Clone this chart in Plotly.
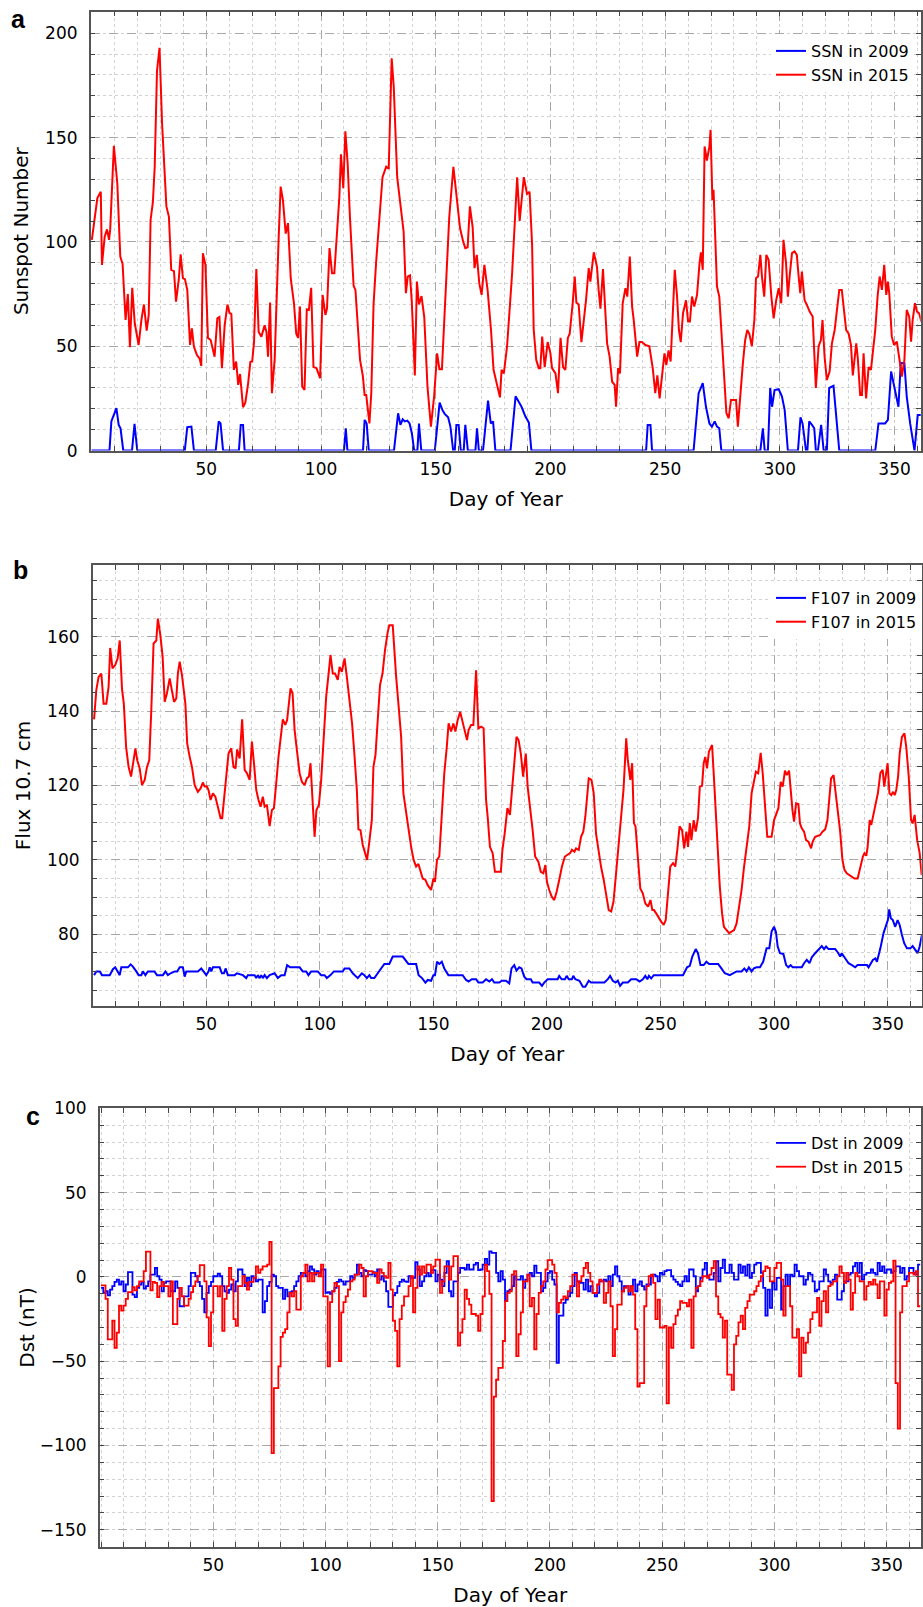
import plotly.graph_objects as go

# ---------------- data ----------------
ssn2015_day = [0.1,2.5,4,4.5,5.7,6.7,7.6,8.1,9.7,11.2,12.5,13.5,14.8,15.8,16.7,17.7,18.8,20.5,21.7,22.8,24,24.9,25.7,26.7,27.5,28.5,29.6,30.7,32.6,33.7,34.7,35.9,36.8,38,38.8,39.8,40.7,41.7,42.9,43.7,44.6,45.9,47.1,47.8,48.5,49.6,50.7,51.9,53.6,54.8,55.7,56.8,58,59.2,60.1,60.9,62,63,63.9,64.7,66,67,68.2,69.2,70,70.8,71.8,72.8,74,75.4,76.2,76.9,77.8,78.6,79.8,80.7,81.5,82.4,83.4,84.6,85.6,86.8,88.2,89.2,90,90.8,91.8,92.8,93.8,94.7,95.7,96.7,98,99.6,100.7,101.9,102.6,103.7,104.8,105.8,107,108,108.7,109.7,110.6,111.6,112.6,114.2,115,116,117,118.2,119,119.7,121.1,121.9,122.9,124,125.2,126.8,128.4,129.5,130.8,131.7,133.2,134.9,136,137,137.8,138.8,139.6,140.9,141.8,142.7,143.8,145,146.4,147.9,149.3,150.6,151.6,152.7,154,155.9,157.7,159.1,160.6,162,162.9,163.9,164.9,166.1,166.9,167.9,169,170,171.2,172.6,174.1,175.2,176.7,178,178.7,179.7,181.1,183.3,185.5,186.6,188.4,189.8,190.9,192,192.7,193.8,194.9,195.6,196.4,197.5,198.8,200,200.7,202.2,203.3,204.4,205.5,206.5,207.6,208.4,209.7,210.6,211.3,212.3,213.5,214.5,215.5,216.7,217.4,218.9,220.3,221,221.8,222.9,223.7,224.7,225.8,226.9,228,228.6,229.5,230.3,231.5,232.7,233.5,234.6,235.6,236.3,237.8,238.8,239.9,241.4,243.1,244.6,245.7,246.6,247.6,248.6,249.7,250.5,251.5,252.4,253.3,254.2,255.2,256,256.8,257.8,259.1,260,260.8,261.7,262.7,263.9,265,265.6,266.4,267.2,268.2,269.3,269.8,270.6,271.1,271.9,272.6,273.6,274.8,275.8,276.7,277.7,278.7,279.9,280.9,281.7,282.8,283.9,284.9,285.8,286.7,287.8,288.9,289.6,290.5,291.5,292.2,293.2,294.1,295.1,296.3,297.3,298.4,299.5,300.6,301.6,302.7,303.5,304.3,305.3,306.4,307.4,308.2,308.9,309.6,310.8,311.8,313,314.3,315,315.7,316.9,317.9,318.6,319.5,320.5,321.7,322.7,323.9,324.9,325.9,327,328,328.9,330,331,331.8,332.6,333.3,334,335,335.8,336.5,337.6,338.7,339.7,340.6,341.6,342.6,343.5,344.5,345.5,346.4,347.1,347.7,348.8,349.8,351,352.1,353.2,354.3,355.3,356.4,357.2,357.9,358.9,359.8,360.7,361.7]
ssn2015 = [101,121,124,89,102.5,106,101,106,146,128,93,89.5,62.6,75,49.5,78,61,50.6,62.6,70,57.5,65,110.5,119,136,182,193,157,117,112,86.6,86,71.4,82,94,82.6,82,77,50.6,58.6,49.8,45.8,44,40.6,94.6,89,54,53,45,63.4,64,39.5,60,70,66,65.5,38.7,42.7,31.5,36.7,20.8,23,32,42.5,42.7,52,87,57,54.6,60,57,45,71,27.5,44,77,101,126.5,120,104,109,82.6,70.6,56,54,69,30.7,29,67.7,67.4,78,40,39.5,34.7,74.6,65,68,97,85,85,102.5,121.7,142,125.7,153,137.7,112,79,77,60,43.5,36,26.7,26.7,13,27.5,70,90,109,131,136,135,188,174.4,131,115,105,75.4,83.4,84,70.6,36,81,70,74,64,30.7,11.5,26,46.6,39,39,66,112,136,121.7,106.5,100,97,97.4,117,107,87.4,93.8,80,74.6,89,77,57.8,38.7,30.7,25.5,38.7,37,50,85,131,110,131,123,124,99,58,43.5,39.5,39.5,54.6,40,52,46.6,39.5,37,27.5,54,40,38.7,54,56,70.6,83.4,71,70,52,61,72,87.4,81,95,88,77,68,87,72,51.4,45,33,31.5,21,39.5,37,70.6,77.8,73.8,93,69,62.6,45,52,52,50.6,50,39.5,27.5,36,25,37,46.6,41,48,42.7,62.6,86.6,73.8,57.8,52,65.8,72,61.8,61.8,73.8,69,74.6,89.8,95,86.6,145.7,139,145.7,153.7,120,125,99,78.6,73.8,53,37,18,15.5,24.3,24.3,24.3,11.5,29,42,53,57.8,56,50,62.6,82.6,83.4,93.8,83.4,73.8,93.8,91.4,73.8,63.4,72,77.8,70.6,101,89.8,73.8,84,94.6,95.4,93.8,83.4,75.4,85.8,72,69.8,66.6,64.2,46.6,30,50,53,62.6,45,33.8,37.9,51.4,57.8,67.4,77,77,67.4,57.8,56,50.6,36,43.5,51.4,44,26.7,26.7,46.6,25,40,38.7,48,57.8,73.8,83.4,77,89,74.6,81,75.4,54.6,50.6,52.2,44,35.5,43.5,67.4,64.2,52.2,62.6,70.6,66.6,65.8,61.8]

ssn2009_day = [0,7.8,8.6,10.8,11.8,12.6,13.8,17.6,18.7,19.9,40.6,41.7,43.5,44.6,54.1,55.4,56.2,57.3,64.2,65,66,66.7,110,110.8,111.5,118.3,119,119.9,120.8,131.8,133.6,134.6,135.6,136.5,137.6,138.6,139.6,140.6,142,142.7,143.7,149.6,151.7,152.9,153.9,155.4,156.4,157.6,158.3,159,160,160.9,162.2,162.9,164,167.3,168,168.8,170.6,172.8,174,175,176,182.6,184.8,185.9,187.4,189.1,190.6,191.7,241.7,242.4,243.6,244.3,262.4,264.6,266.4,267.8,269.3,270.4,271.6,272.6,273.6,274.5,291.5,292.6,293.4,294.8,295.8,296.6,297.7,299.5,300.9,302.1,303.5,307.9,309,309.9,311.4,312,312.8,314,315,315.7,316.6,318,319.1,320.5,321.5,323.4,324.9,325.9,341.6,343,345.9,347.1,348.5,350.3,351.7,352.7,354.3,355.3,356.8,358.7,360.1,361.7]
ssn2009 = [0,0,14,20.3,12.3,10.7,0,0,12.8,0,0,11.2,11.5,0,0,14,13,0,0,12.3,12.3,0,0,10.7,0,0,14.7,13,0,0,17.9,12.3,15,14,14.4,13,8.3,0,0,13,0,0,23,19.5,17.6,16,11.5,0,0,12.3,12.3,0,0,12.3,0,0,10.7,0,0,24,13,14,0,0,26,24,21,16.3,13.4,0,0,12.3,12.3,0,0,27.5,32.3,21,13,11.5,14,11.5,10.7,0,0,10.7,0,0,30,21,29,29.4,26,19.5,0,0,16,13,0,0,14,12.3,10.7,0,0,12.3,0,0,30,31,14,0,0,13,13,14.7,37.9,29,21,42,41.9,26,13,0,17,17]

f107_2015_day = [0.6,1.6,2.6,3.8,4.8,6,7,7.7,8.7,9.9,11,11.9,12.9,13.7,14.7,15.8,16.9,17.8,18.8,19.6,20.7,21.7,22.9,23.9,24.9,25.8,26.8,28,28.7,29.8,30.8,31.7,32.7,33.9,34.9,35.8,36.8,37.5,38.3,39.3,40.8,41.6,42.7,43.7,44.9,46.3,47.5,48.5,49.3,50.3,51,51.9,52.9,54,55.1,56.3,57,58.1,59.2,59.8,61,62,62.9,63.6,64.7,65.8,66.9,67.9,69.1,70.1,71,72,73,73.9,74.9,75.7,76.7,77.9,78.9,79.8,80.8,81.8,83.7,84.8,85.6,86.4,87.1,88,88.9,89.9,91.1,92.1,93.3,94.3,95.2,95.9,96.6,97.7,98.5,99.6,100.6,101.6,102.8,103.8,104.7,105.7,106.7,107.9,108.7,109.7,110.9,111.9,113,114.2,115.2,116.3,117,117.9,118.9,119.9,120.8,121.8,122.9,123.6,124.5,125.5,126.5,127.6,128.7,129.9,130.6,132.1,132.8,133.6,134.6,135.8,136.8,138,139,140.2,141.3,142.4,143.4,144.3,145.3,146.5,147.5,149,150,150.7,151.6,152.6,153.7,154.8,155.9,156.7,157.8,158.8,159.7,160.7,161.8,162.9,164.1,164.8,165.5,166.6,167.6,168.8,169.8,171,172.1,173.2,173.9,174.9,176.1,177.1,179.7,180.4,181.4,182.6,183.7,184.5,185.6,186.6,187.5,188.5,189.5,190.7,191.5,192.6,193.7,194.8,196.2,197.3,198.4,199.3,200,201,202.1,203.2,204.3,205.4,206.6,207.9,209.1,210.2,211,212.1,212.8,214,215,216,216.9,217.7,218.4,219.6,220.6,221.6,222.7,223.8,225,226.1,227.2,228.3,229.3,230.5,231.5,232.7,233.7,234.9,235.6,236.7,237.5,238.3,239,240,241.1,242.2,243.3,244.5,245.6,246.4,247.1,248.1,249.2,250.3,251.4,252.3,253.3,254.3,255.5,256.5,257.4,258.4,259.5,260.4,261.4,262.1,262.9,263.6,264.6,265.5,266.5,267.3,268.3,269,269.7,270.5,271.3,272.1,272.7,273.5,274.3,275.4,276.1,277.1,277.9,279.1,280.2,281.3,282.4,283.5,284.5,285.7,286.7,287.9,289.1,290.1,291.1,292,293,294.1,295,296,297,297.9,298.9,300,300.8,301.9,302.9,303.8,304.8,305.6,306.6,307.3,308.1,308.8,309.7,310.7,311.4,312.2,313.2,314.1,315.1,316.3,317,318.1,319.2,320.3,321.3,322.5,323.5,324.4,325.1,326.2,327.2,328.1,329.1,330.1,331,332,333.2,334.2,335.4,336.8,337.9,339.1,339.8,340.6,341.2,342.1,342.8,343.8,344.9,345.7,346.8,347.8,348.5,349.3,350,350.8,351.6,352.4,353.1,353.8,354.6,355.3,356.3,357.4,358.2,359.3,360.3,361,361.9,363,364.1,365]
f107_2015 = [137.8,145.7,149.2,150.1,142,142,146.6,157,151.5,152.4,154.2,159,146,142,130.4,125,122.4,126,130,126.8,124.6,120.1,121.5,125,126.8,140.3,158.2,159,164.9,160.4,154.6,142.5,144.8,148.8,145.2,142.5,143.4,150.1,153.3,149.7,142,131.3,127.7,125,120.1,118.3,119.2,120.8,119.7,119.7,118.8,116.1,117.9,117,114.3,111.2,111.2,117.9,123.3,128.6,130,125,124.6,129.7,127.3,137.8,124.2,123.3,121.5,131.8,126,118.8,116.1,114.3,117,114.3,114.8,109.1,113.4,113.9,120.6,127.7,137.8,136.3,137.6,143,146.1,144.8,134.9,129.5,123.3,121,120.1,121.9,122.4,126,117.9,106.2,113.4,114.8,121.5,133.1,143.9,149.7,155.1,150.1,150.1,148.4,151.9,150.6,154.2,149.2,143,136.7,128.6,118.8,108.2,108,104,102.2,100,104.9,110.7,125,128.2,137.6,147,150.1,156.4,161.3,163.1,163.1,155.5,149.2,142,133.1,117.9,112.5,108,103.5,100,98.2,98.9,96.8,95,94.6,93.2,91.9,95,94.1,100,100.9,112.5,123.3,130.4,136.7,134.5,136.7,134.5,137.6,139.8,136.7,134,132.2,134.9,136.3,136.3,151,135.4,135.8,135.4,116.1,111.6,103.5,101.8,96.8,96.8,102.7,107.1,113.9,112.1,117.9,127.7,133.1,132.2,128.6,122.4,128.6,119.7,114.3,108,100.9,99.5,96.8,96.4,98.6,94.1,91.9,90.1,89.2,91.5,94.6,98.2,100.9,101.3,101.8,102.7,102.2,103.1,102.7,106.2,107.6,111.6,117,121.9,121.5,117.9,107.1,102.2,98.2,94.6,91,86.5,86.1,88.8,96.8,104.4,111.6,118.8,132.7,126.8,121.5,126,109.9,109,100.9,92.3,91,88.3,87.4,89.2,86.5,86.5,85.6,84.3,83.4,82.5,83.8,91,98.2,99.1,98.2,102.7,109,108,103.1,107.6,103.5,109.9,105.3,110.7,107.6,111.2,119.7,119.9,126,127.7,124.6,129.1,130.4,130.9,122.4,112.5,101.8,92.8,85.6,82,81.1,80.3,80.7,81.1,82.9,86.5,91.9,97.7,103.5,109.1,117.9,120.6,123.7,123.3,128.8,123.3,114.3,106.2,106.2,106.2,110.7,112.1,113.9,121,119.7,124,122.8,124,117.9,113.4,110.3,115.2,115,109.8,108.5,107.6,105.3,104.9,103.1,104.9,106.2,106.4,106.7,107.6,108.2,110.7,117.9,121.9,122.8,117.9,112.5,107.6,100,97.3,96.4,95.9,95.5,95,95,98.2,100.9,101.8,101.1,103.5,110.7,109.4,112.5,115.6,117.9,123.3,124.2,119.7,123.3,126,117.9,117.4,118.3,117.4,118.8,122.4,128.6,133.1,134,130.4,122.4,110.7,109.8,112.1,105.3,101.8,95.9]

f107_2009_day = [0.6,1.6,3.1,4.1,7.5,8.9,9.9,11,11.9,12.6,13.7,15.5,16.7,17.7,19.2,20.2,21.4,22.1,23.2,24.3,27.2,28.3,30.9,32,33.1,34.3,36.1,37.2,38.3,39.7,40.5,41.2,46.3,47.8,48.8,50,51,51.5,52.2,52.9,55.9,56.9,57.8,58.5,59.5,62.5,63.5,66.1,67.6,68.3,71.3,72,72.7,73.5,74.2,74.9,75.7,76.7,77.9,80.1,81.5,83,84.5,85.6,86.9,91.1,92.5,94,95,96.2,99.1,100.6,102.1,103.1,104.7,106.2,110.1,110.9,113,114.5,116.7,118.5,119.6,120.7,121.8,122.6,124,125.5,127,128.4,130.6,132.1,136.5,137.7,139,142.4,143.5,145,146.5,147.5,149,150,150.7,151.6,152.6,153.7,154.8,156.6,162.9,164.4,165.5,166.9,168.8,169.8,171.7,173.2,174.6,175.8,176.8,179,180.1,181.9,183.4,184.4,185.6,186.6,187.8,188.8,190,191,192.9,193.7,196.6,197.8,198.8,200.3,204.7,205.4,206.5,207.9,208.7,209.6,211,211.6,212.5,214.3,215.8,216.9,218.4,219.4,225.3,226.8,227.8,229,230.2,231.2,232.2,233.4,235.6,237.1,239.3,240.8,242.2,243.3,244.2,244.9,245.9,247,259.9,261.7,262.9,264,265.5,266.5,267.6,269,270.2,271.4,275.4,276.8,278.3,280.5,282,283.5,285.7,286.9,287.9,288.9,290.1,291.1,292.3,293.8,295.2,296.7,297.9,298.9,300,300.8,301.6,302.6,304.1,305.3,306.3,307.3,308.2,312.2,313.2,314.4,315.6,316.6,318.1,320,321,322,322.9,324,326.9,328.1,329.1,329.8,330.9,332.8,334.3,335.7,336.8,340.9,341.6,342.6,343.5,344.6,345.3,346.8,348.2,349.4,350.1,350.7,351.4,352.3,353.3,354.4,355.3,356.3,357.3,358.5,360,361,362.2,363.2,364.1,365.1]
f107_2009 = [69,70,70,69,69,70.6,71.1,70,69,71.1,71.1,71.1,71.9,71.3,70,69,69,70,69,70,70,69,69,70,69,69.5,70,70,71.1,71.1,68.6,70,70,70.8,70,69,70,71.1,70,71.1,71.1,69.5,69.5,70.8,69,69,69.5,69,68.2,69,69,68.2,69,68.2,69,68.2,69,68.2,69,69.5,68.2,69,69,71.7,71.1,71.1,70,70,69,70,70,69,69,68.2,69,70,70,70.8,70.8,69.5,68.2,69.5,69,68.2,69,68.2,68.2,69.5,70.8,72,72,74,74,73.1,72,72,69,68.2,67,67.7,67.5,69,69,72.6,72,72.6,70.8,69,69,67.7,67.3,67.9,67.9,67,67,67.9,67.3,67.9,67,67,67.5,67.5,66.8,70.8,71.7,70.2,71.1,70.8,68.6,67.9,67.9,67,67,66.1,67,67.9,67.9,68.8,67.9,67.9,68.8,67.9,67.9,68.8,67.9,67.5,65.9,65.9,67.5,67,67,67.9,68.8,67.5,67,67.5,66.1,67,67,67.9,67.9,67.3,67.9,68.8,67.9,68.8,68.1,69,69,71.1,71.5,74,76,74.9,71.7,71.7,72.6,72,72,70.8,69.5,69,69.5,70,70,70.8,70,71.1,70,70.8,71.1,71.1,72.6,76.2,76.2,80.7,82,80.7,76.7,74.9,74.7,71.7,71.1,71.7,71.1,71.1,72.2,73.1,72.2,73.8,74.9,76.2,76.8,76,76.7,76,76,75.1,74,74.9,73.8,72.2,71.7,71.1,71.7,71.7,71.1,72.2,73.1,73.5,72.6,76.2,80.3,82.5,83.8,86.7,84.3,83.8,82,83.8,82.5,79.8,77.6,76.2,76.2,76.8,75.8,74.9,76.7,79.8]

dst2015_day = [0,2,3,5,6,7,8,9,10,11,12,14,15,16,17,19,20,22,23,24,25,26,27,28,30,31,32,34,35,36,37,39,40,41,42,43,44,46,47,48,49,50,52,53,54,55,56,57,58,59,60,61,63,64,65,66,68,69,70,71,72,74,75,76,77,79,80,81,82,83,84,85,86,87,89,90,91,92,93,94,95,97,98,99,101,102,103,104,105,106,107,108,109,110,111,112,113,115,116,117,118,119,120,121,123,124,125,126,127,128,129,130,131,132,133,134,135,137,138,139,140,141,142,143,144,145,147,148,149,150,151,152,153,155,156,157,158,159,160,161,162,163,164,165,167,168,169,170,171,172,173,174,175,176,177,178,179,180,181,182,183,184,185,186,187,188,190,191,192,193,194,195,196,197,198,199,201,202,203,204,205,206,207,208,209,210,212,213,214,215,216,217,218,219,221,222,223,224,225,226,227,228,229,230,232,233,234,235,236,237,238,239,240,242,243,244,245,246,247,248,249,251,252,253,254,255,256,257,258,259,261,262,263,264,265,266,267,268,270,271,272,273,274,275,276,277,278,279,281,282,283,284,285,286,287,288,289,291,292,293,294,295,296,297,298,300,301,302,303,304,305,306,307,308,310,311,312,313,314,315,316,317,319,320,321,322,323,324,325,326,328,329,330,331,332,333,334,335,336,337,338,340,341,342,343,344,345,346,347,349,350,351,352,353,354,355,356,357,359,360,361,362,363,364,365]
dst2015 = [-5,-13,-37,-26,-42,-33,-17,-20,-17,-13,-9,-6,-8,-5.5,-2.6,3.4,15,-8,-3,-3.5,-12,-5.5,-3,-5.5,-11.5,-2.6,-28,-13,-6.5,-11.5,-17,-13,-9,-5.5,-2.6,0.4,7,-2.6,-24,-41,-21,-5.5,-11.5,-5.5,-32,-13,-5.5,5.3,-1.6,-25,-29,-5.5,0.4,-3.5,-7.5,-3,-0.6,6.3,2.4,4.4,6.3,7.3,20.8,-104.5,-66,-53,-35.6,-33,-31,-21,-9.5,-11.5,-8.5,-19.4,0.4,2.4,7.3,-2.6,2.4,-2.6,2.4,0.4,7.3,-11.5,-53,-15,-8.5,-3.5,-5.5,-50,-21,-15,-11.5,-7.5,-2.6,-1.6,1.4,7.3,5.3,-11.5,0.4,3.4,3.4,2.4,-3.5,4.4,2.4,0.4,-0.6,8.3,-7.5,-26,-32,-53,-25,-17,-11.5,-5.5,0.4,-21,-6.5,6.3,1.4,6.3,2.4,7.3,2.4,6.3,10.3,10.3,-9.5,-2.6,6.3,-1.6,6.3,12.3,12.3,-40.8,-33,-25,-7.5,-13,-16.4,-22,-23,-32,-22,-11.5,7.3,3.4,-10,-133,-71,-61,-54,-54,-38,-14.4,-9.5,-8.5,1.4,3.4,-47,-34,-21,-2.6,1.4,-17.4,-12.5,-43,-22,-9.5,-5.5,-2.6,4.4,9.9,7.3,2.4,-21,-15.4,-13.5,-11.5,-12.5,-8.5,-5.5,1.4,-11.5,-2.6,0.4,5.3,8.3,2.4,-2.6,-9.5,-4.5,-1.6,-2.6,-15.4,-9.5,-2.6,-17.4,-47,-31,-16.4,-8.5,-6.5,-5.5,-8.5,-5.5,-10.5,-31,-65,-63,-17.4,-5.5,0.4,1.4,-3.5,-25,-13.5,-30,-29,-75,-30,-42,-28,-23,-19.4,-14.4,-15.4,-17.4,-13.5,-42,-11.5,-6.5,-5.5,-2.6,0.4,-0.6,1.4,5.3,9.3,-11.5,-22,-24,-36,-26,-58,-67,-40,-35,-27,-23,-31,-18.4,-14.4,-10.5,-8.5,-5.5,-2.6,0.4,3.4,6.3,5.3,-2.6,5.3,8.3,8.3,-1.6,-23,-5.5,-5.5,-17.4,-36,-31,-59,-36,-45,-39,-33,-25,-21,-12.5,-29,-14.4,-8.5,-21,-5.5,-4.5,-2.6,0.4,6.3,2.4,-3.5,2.4,-1.6,-19.4,-9.5,2.4,0.4,-2.6,-13.5,-5.5,-3,-4.5,-1.6,-4.5,-12.5,-2.6,-23,-7.5,-3.5,-2.6,9.7,-63,-90,-21,-5.5,-2.6,2.4,2.4,1.4,3.4,-17.4,-17.4]

dst2009_day = [0,1,2,3,4,5,6,7,8,9,10,11,12,14,15,16,17,18,19,20,21,22,24,25,26,27,28,29,30,31,33,34,35,36,37,38,39,40,42,43,44,45,46,47,48,49,50,52,53,54,55,56,57,58,59,60,61,63,64,65,66,67,68,69,70,72,73,74,75,76,77,78,79,81,82,83,84,85,86,87,88,89,91,92,93,94,95,96,97,98,100,101,102,103,104,105,106,107,108,109,111,112,113,114,115,116,117,118,119,121,122,123,124,125,126,127,128,130,131,132,133,134,135,136,137,138,140,141,142,143,144,145,146,147,149,150,151,152,153,154,155,156,157,159,160,161,162,163,164,166,167,168,169,170,171,172,173,174,176,177,178,179,180,181,182,183,184,185,187,188,189,190,191,192,193,194,196,197,198,199,200,201,202,203,204,206,207,208,209,210,211,212,213,215,216,217,218,219,220,221,222,224,225,226,227,228,229,230,231,232,233,235,236,237,238,239,240,241,242,243,245,246,247,248,249,250,251,252,254,255,256,257,258,259,260,261,262,264,265,266,267,268,269,270,271,273,274,275,276,277,278,279,280,281,282,284,285,286,287,288,289,290,291,292,294,295,296,297,298,299,300,301,303,304,305,306,307,308,309,310,311,313,314,315,316,317,318,319,320,322,323,324,325,326,327,328,329,330,331,333,334,335,336,337,338,339,340,341,343,344,345,346,347,348,349,350,352,353,354,355,356,357,358,359,360,362,363,364,365]
dst2009 = [-6.5,-9.5,-8.5,-11,-7.5,-5.5,-3,-1.6,-4.5,-2.6,-8.5,-4.5,2.8,-10.5,-12,-6.5,-4.5,-3,-7,-5.5,-2.6,1.4,5.3,0.4,-1.6,-8.5,-3.5,-2.6,-2.6,-8.5,-2.6,-6.5,-17.4,-17.4,-11.5,-11.5,-5.5,2.4,0.4,-3,-5.5,-13,-21,-9.5,-5.5,-3,0.4,2,0.4,-5.5,-8.5,-9.5,-7.5,-4.5,-8.5,-2.6,4.4,1.4,-5.5,-0.6,-5.5,0.4,-0.6,-2.6,-1.6,-21,-14.4,-5.5,-3,1.4,0.4,-5.5,-6.5,-13,-7.5,-11.5,-9,-8.5,-5.5,-2.6,0.4,2.4,0.4,3.4,6.3,4.4,1.4,3.4,2.4,4.4,-9.5,-9,-10,-8.5,-6.5,-3,-1.6,-2.6,-4.5,-2.6,0.4,-0.6,1.4,7.3,2.4,0.4,4,3.4,1.4,2.8,0.4,4.4,-1.6,0.4,-2.6,-8.5,-17.8,-11,-9.5,-5.5,-3,-1.6,-2.6,-3,0.4,-0.6,8.7,4.4,-5.5,-2.6,0.4,2.4,0.4,4,-2.6,1.4,-1.6,-5.5,2.4,9.3,-8.5,-11.5,-2.6,2.4,5.3,5.3,4.4,7.3,4.4,7.3,8.3,4,4.4,7.3,10.7,7.3,15.2,14.2,2.4,-2.6,3.4,-1.6,-14.4,-8.5,-7.5,-5.5,0.4,-1.6,0.4,-6.5,-1.6,1.4,2.4,0.4,6.7,2.4,-8.5,-6.5,-2.6,2.4,3.4,-1.6,-4.5,-51,-23,-15.4,-13.5,-11.5,-9.5,-5.5,2.4,-2.6,-3.5,-7.5,-1.6,-8.5,-5.5,-9.5,-11.5,-9.5,-2.6,-1.6,-2.6,0.4,-5.5,1.4,6.3,0.4,-2.6,-8.5,-5.5,-10.5,-5.5,-1.6,-8.5,-4.5,-2.6,-5.5,-7.5,-4.5,0.4,1.4,0.4,-2.6,2.4,1.4,3.4,4,0.4,-1.6,-3,-4.5,-5.5,-2.6,0.4,-2.6,4.4,0.4,-8.5,-5.5,-0.6,4.4,8.3,0.4,-1.6,2.4,9.3,-2.6,5.3,10.3,2.4,2.4,7.3,2.4,-1.6,7.3,2.4,6.3,0.8,7.3,-0.6,2.4,7.3,8.3,2.4,-6.5,-23,-7.5,-18.4,-3.5,-7.5,-0.6,-19.4,-5.5,1.4,-5.5,1.4,0.4,7.3,3.4,0.4,-4.5,-1.6,2.4,1.4,-2.6,-8.5,-7.5,-2.6,4.4,1.4,-2.6,-3.5,-1.6,1.4,-13.5,-13.5,-8.5,-2.6,1.4,2.4,6.3,8.3,2.4,8.3,-1.6,1.4,2.4,4.4,2.4,1.4,8.3,3.4,6.3,2.4,4.4,2.4,3.4,6.3,6.3,2.4,5.3,-1.6,0.4,5.3,2.4,1.4,7.3,7.3]

x_tick_vals = [50, 100, 150, 200, 250, 300, 350]
ssn_tick_vals = [0, 50, 100, 150, 200]
f107_tick_vals = [80, 100, 120, 140, 160]
dst_tick_vals = [-150, -100, -50, 0, 50, 100]

BLUE = "#0000ff"
RED = "#ff0000"
FONT = "DejaVu Sans"
W, H = 923, 1607

fig = go.Figure()
fig.add_trace(go.Scatter(x=ssn2009_day, y=ssn2009, mode="lines", name="SSN in 2009",
                         line=dict(color=BLUE, width=2), xaxis="x", yaxis="y", legend="legend"))
fig.add_trace(go.Scatter(x=ssn2015_day, y=ssn2015, mode="lines", name="SSN in 2015",
                         line=dict(color=RED, width=2), xaxis="x", yaxis="y", legend="legend"))
fig.add_trace(go.Scatter(x=f107_2009_day, y=f107_2009, mode="lines", name="F107 in 2009",
                         line=dict(color=BLUE, width=2), xaxis="x2", yaxis="y2", legend="legend2"))
fig.add_trace(go.Scatter(x=f107_2015_day, y=f107_2015, mode="lines", name="F107 in 2015",
                         line=dict(color=RED, width=2), xaxis="x2", yaxis="y2", legend="legend2"))
fig.add_trace(go.Scatter(x=dst2009_day, y=dst2009, mode="lines", name="Dst in 2009",
                         line=dict(color=BLUE, width=1.8, shape="hv"), xaxis="x3", yaxis="y3", legend="legend3"))
fig.add_trace(go.Scatter(x=dst2015_day, y=dst2015, mode="lines", name="Dst in 2015",
                         line=dict(color=RED, width=1.8, shape="hv"), xaxis="x3", yaxis="y3", legend="legend3"))


def xax(domain, rng, anchor):
    return dict(domain=domain, range=rng, anchor=anchor, tickmode="array", tickvals=x_tick_vals,
                ticks="inside", ticklen=5, tickwidth=1, tickcolor="#444",
                showline=True, linecolor="#555", linewidth=1.5, mirror="ticks",
                showgrid=True, gridcolor="#a8a8a8", griddash="dash", gridwidth=1, zeroline=False,
                minor=dict(dtick=10, tick0=0, ticks="inside", ticklen=5, tickcolor="#444",
                           showgrid=True, gridcolor="#d2d2d2", griddash="dot", gridwidth=1),
                tickfont=dict(family=FONT, size=17, color="black"), ticklabelstandoff=2,
                title=dict(text="Day of Year", font=dict(family=FONT, size=20, color="black"), standoff=14))


def yax(domain, rng, anchor, vals, minor_dt, title, standoff):
    return dict(domain=domain, range=rng, anchor=anchor, tickmode="array", tickvals=vals,
                ticks="inside", ticklen=5, tickwidth=1, tickcolor="#444",
                showline=True, linecolor="#555", linewidth=1.5, mirror="ticks",
                showgrid=True, gridcolor="#a8a8a8", griddash="dash", gridwidth=1, zeroline=False,
                minor=dict(dtick=minor_dt, tick0=0, ticks="inside", ticklen=5, tickcolor="#444",
                           showgrid=True, gridcolor="#d2d2d2", griddash="dot", gridwidth=1),
                tickfont=dict(family=FONT, size=17, color="black"), ticklabelstandoff=8,
                title=dict(text=title, font=dict(family=FONT, size=20, color="black"), standoff=standoff))


dom_a_x = [90.7 / W, 920.7 / W]
dom_a_y = [1 - 450.6 / H, 1 - 11.7 / H]
dom_b_x = [92.7 / W, 921.7 / W]
dom_b_y = [1 - 1006 / H, 1 - 565 / H]
dom_c_x = [99.7 / W, 920.7 / W]
dom_c_y = [1 - 1546.7 / H, 1 - 1108.3 / H]

leg_common = dict(bgcolor="white", borderwidth=0, xanchor="left", yanchor="top",
                  font=dict(family=FONT, size=16, color="black"), tracegroupgap=0,
                  itemwidth=30)

fig.update_layout(
    width=W, height=H, margin=dict(l=0, r=0, t=0, b=0, pad=0),
    paper_bgcolor="white", plot_bgcolor="white", template="none",
    font=dict(family=FONT, color="black"),
    xaxis=xax(dom_a_x, [-0.4, 361.4], "y"),
    yaxis=yax(dom_a_y, [0, 210.3], "x", ssn_tick_vals, 10, "Sunspot Number", 11),
    xaxis2=xax(dom_b_x, [0, 365], "y2"),
    yaxis2=yax(dom_b_y, [60.7, 179.3], "x2", f107_tick_vals, 5, "Flux 10.7 cm", 11),
    xaxis3=xax(dom_c_x, [-0.6, 365.2], "y3"),
    yaxis3=yax(dom_c_y, [-160, 100], "x3", dst_tick_vals, 10, "Dst (nT)", 0),
    legend=dict(x=771 / W, y=1 - 34 / H, **leg_common),
    legend2=dict(x=771 / W, y=1 - 581 / H, **leg_common),
    legend3=dict(x=771 / W, y=1 - 1126 / H, **leg_common),
    showlegend=True,
)

for letter, xp, yp in [("a", 18, 19), ("b", 20, 570), ("c", 33, 1116)]:
    fig.add_annotation(text=f"<b>{letter}</b>", xref="paper", yref="paper",
                       x=xp / W, y=1 - yp / H, xanchor="center", yanchor="middle",
                       showarrow=False, font=dict(family="Liberation Sans", size=25, color="black"))

fig.write_html("out.html")
